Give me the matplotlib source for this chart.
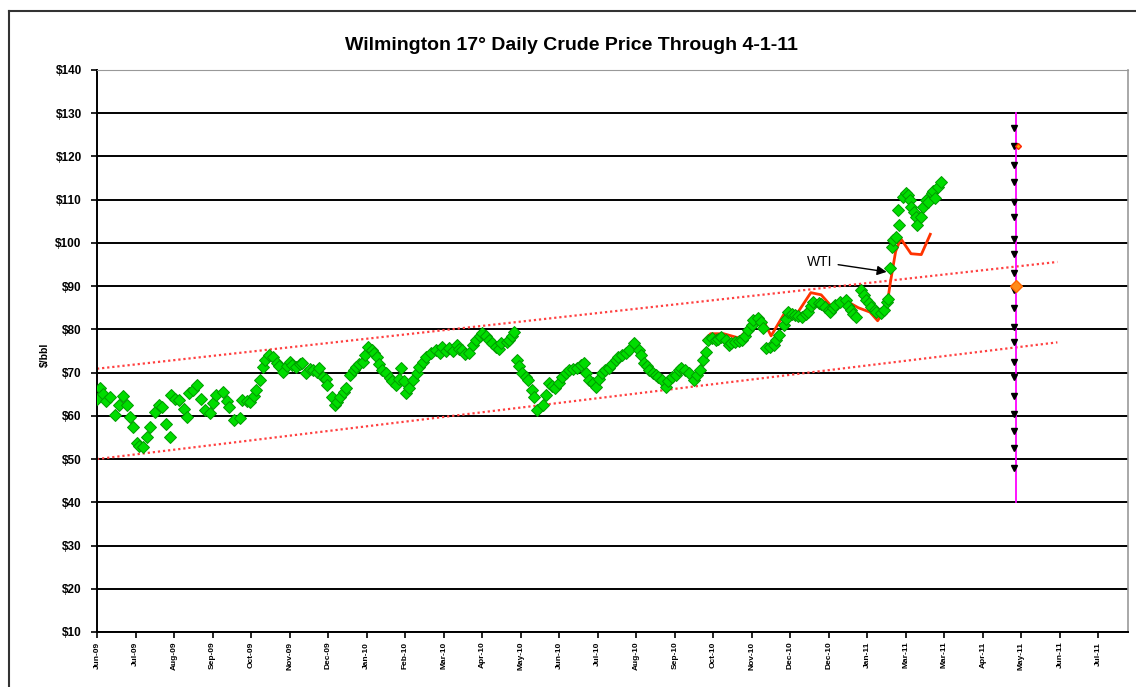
import matplotlib
matplotlib.use('Agg')
import matplotlib.pyplot as plt
from matplotlib.lines import Line2D

plt.rcParams['font.family'] = ['Liberation Sans', 'DejaVu Sans']

# x values are days after 9 Jun 2009, axis ticks every 30 days
tick_days = list(range(0, 781, 30))
tick_labels = ['Jun-09', 'Jul-09', 'Aug-09', 'Sep-09', 'Oct-09', 'Nov-09', 'Dec-09',
               'Jan-10', 'Feb-10', 'Mar-10', 'Apr-10', 'May-10', 'Jun-10', 'Jul-10',
               'Aug-10', 'Sep-10', 'Oct-10', 'Nov-10', 'Dec-10', 'Dec-10', 'Jan-11',
               'Mar-11', 'Mar-11', 'Apr-11', 'May-11', 'Jun-11', 'Jul-11']
price_ticks = list(range(10, 141, 10))

# Wilmington 17 deg daily price ($/bbl)
wil_day = [0, 2, 5, 7, 10, 14, 17, 20, 23, 26, 28, 31, 33, 36, 39, 41, 45, 48, 51, 54,
           57, 58, 61, 64, 68, 70, 72, 75, 78, 81, 84, 88, 90, 93, 98, 101, 103, 107, 111, 113,
           117, 119, 122, 124, 127, 129, 131, 134, 137, 140, 142, 145, 148, 150, 152, 155, 158, 160, 163, 166,
           168, 171, 173, 176, 178, 179, 183, 185, 187, 189, 192, 194, 197, 200, 202, 204, 207, 209, 211, 214,
           216, 218, 220, 222, 225, 228, 230, 233, 235, 237, 239, 241, 243, 246, 249, 251, 254, 256, 260, 264,
           267, 269, 272, 274, 277, 280, 282, 284, 287, 290, 293, 295, 298, 300, 303, 305, 308, 311, 313, 315,
           319, 321, 323, 325, 327, 329, 331, 334, 336, 339, 340, 343, 347, 350, 352, 354, 357, 360, 362, 365,
           368, 371, 374, 377, 379, 381, 383, 386, 389, 391, 393, 396, 399, 401, 404, 406, 409, 412, 414, 418,
           422, 424, 426, 428, 430, 433, 435, 437, 440, 443, 445, 448, 451, 453, 455, 458, 461, 465, 467, 470,
           472, 474, 476, 479, 482, 484, 486, 490, 492, 494, 497, 500, 502, 505, 507, 510, 511, 515, 517, 519,
           521, 524, 527, 529, 531, 535, 537, 538, 541, 544, 546, 549, 552, 554, 556, 558, 562, 564, 567, 570,
           571, 573, 575, 579, 583, 585, 587, 589, 591, 595, 597, 599, 601, 603, 606, 607, 611, 613, 615, 616,
           618, 619, 620, 622, 624, 625, 628, 630, 632, 633, 634, 636, 638, 639, 642, 643, 646, 647, 650, 651,
           653, 655, 657]
wil_price = [64.0, 66.5, 65.0, 63.5, 64.4, 60.2, 62.5, 64.5, 62.5, 59.8, 57.5, 53.8, 53.0, 52.8, 55.0, 57.5, 61.0, 62.5, 62.0, 58.0,
             55.0, 64.9, 64.0, 63.7, 61.5, 59.8, 65.3, 66.0, 67.2, 64.0, 61.4, 60.7, 63.0, 64.9, 65.6, 63.5, 62.1, 59.0, 59.5, 63.7,
             63.5, 63.2, 64.5, 66.0, 68.3, 71.3, 73.0, 74.1, 73.5, 72.3, 71.5, 70.2, 71.5, 72.5, 71.8, 71.3, 72.0, 72.3, 70.0, 70.8,
             70.6, 70.2, 71.1, 69.0, 68.5, 67.2, 64.4, 62.5, 63.2, 64.4, 65.5, 66.5, 69.5, 70.5, 71.3, 72.0, 72.5, 74.0, 76.0, 75.3,
             74.5, 73.7, 72.0, 70.6, 69.8, 68.8, 68.0, 67.2, 68.5, 71.1, 68.0, 65.3, 66.5, 68.3, 70.0, 71.3, 72.5, 73.7, 74.5, 75.3,
             74.5, 76.0, 75.0, 75.7, 75.0, 76.4, 75.5, 75.3, 74.2, 74.6, 76.5, 77.6, 78.5, 79.2, 78.5, 77.6, 76.8, 76.0, 75.5, 76.9,
             77.0, 77.6, 78.5, 79.4, 73.0, 71.5, 70.0, 69.0, 68.3, 66.0, 64.4, 61.4, 62.5, 64.9, 67.6, 66.8, 66.5, 67.5, 69.0, 70.0,
             70.6, 70.8, 71.1, 71.8, 72.3, 70.0, 68.3, 67.5, 66.7, 68.5, 70.0, 70.5, 71.1, 72.0, 73.0, 73.5, 74.1, 74.5, 75.3, 76.9,
             75.3, 74.0, 72.3, 71.5, 70.6, 70.0, 69.5, 69.0, 68.3, 66.7, 68.0, 69.0, 69.5, 70.5, 71.1, 70.5, 70.0, 68.3, 69.5, 70.6,
             73.0, 74.8, 77.6, 78.0, 77.6, 77.8, 78.3, 77.5, 76.4, 76.8, 77.1, 77.3, 77.6, 78.5, 79.9, 81.0, 82.2, 82.7, 81.8, 80.4,
             75.7, 76.0, 76.4, 77.5, 78.7, 81.1, 82.5, 84.1, 83.5, 83.4, 83.0, 82.9, 83.5, 84.1, 85.5, 86.4, 86.2, 85.8, 85.2, 84.5,
             84.1, 85.0, 85.7, 86.4, 86.9, 85.5, 84.5, 83.5, 82.9, 89.2, 88.0, 86.9, 86.0, 85.2, 84.5, 84.1, 83.8, 84.5, 86.4, 87.0,
             94.3, 99.1, 100.7, 101.4, 107.7, 104.2, 110.7, 111.6, 111.0, 110.0, 108.4, 107.2, 106.0, 104.2, 106.0, 108.4, 110.0, 109.5, 111.6, 112.0,
             110.5, 113.0, 114.2]

# WTI ($/bbl)
wti_day = [473, 478, 488, 500, 511, 519, 525, 536, 546, 556, 564, 573, 584, 593, 602, 608, 615, 618, 622, 626, 634, 642, 649]
wti_price = [77.5, 79.0, 79.0, 78.0, 81.0, 82.0, 78.5, 84.0, 84.0, 88.5, 88.0, 85.0, 86.5, 85.0, 84.0, 82.0, 85.0, 91.0, 98.0, 101.0, 97.5, 97.3, 102.0]

# price channel
chan_day = [0, 748]
chan_upper = [70.9, 95.6]
chan_lower = [50.0, 77.0]

# forward strip
strip_day = 716
strip_price = [126.5, 122.5, 118.0, 114.0, 109.5, 106.0, 101.0, 97.5, 93.0, 89.0,
               85.0, 80.5, 77.0, 72.5, 69.0, 64.5, 60.5, 56.5, 52.5, 48.0]
strip_range = [40, 130]
wti_point = 90.0
wil_point = 122.5

fig = plt.figure(figsize=(11.36, 6.87), dpi=100)
ax = fig.add_axes([97 / 1136, 55 / 687, 1031 / 1136, 562 / 687])

ax.plot(chan_day, chan_upper, color='#ff4040', lw=1.6, ls=(0, (1, 1.3)), zorder=2)
ax.plot(chan_day, chan_lower, color='#ff4040', lw=1.6, ls=(0, (1, 1.3)), zorder=2)

ax.plot(wti_day, wti_price, color='#ff3300', lw=2, zorder=3)
ax.plot(wil_day, wil_price, ls='none', marker='D', ms=6.5,
        mfc='#00dd00', mec='#009a00', mew=0.7, zorder=4)

ax.plot([strip_day, strip_day], strip_range, color='#ff00ff', lw=1.3, zorder=3)
ax.plot([strip_day - 1.5] * len(strip_price), strip_price, ls='none', marker='v',
        ms=4, color='black', zorder=5)
ax.plot(strip_day, wti_point, ls='none', marker='D', ms=6.5, mfc='#ff8c1a', mec='#ff6600', zorder=6)
ax.plot(strip_day + 1, wil_point, ls='none', marker='D', ms=3, mfc='#ffb000', mec='#ff2200', zorder=6)

ax.annotate('WTI', xy=(615, 93.3), xytext=(563, 95.6), fontsize=10,
            ha='center', va='center',
            arrowprops=dict(arrowstyle='-|>', color='black', lw=1, mutation_scale=14,
                            shrinkA=2, shrinkB=0))

ax.set_xlim(0, 803)
ax.set_ylim(10, 140)
ax.set_xticks(tick_days)
ax.set_xticklabels(tick_labels, rotation=90, fontsize=6, fontweight='bold')
ax.set_yticks(price_ticks)
ax.set_yticklabels(['$%d' % p for p in price_ticks], fontsize=8.5, fontweight='bold')
ax.tick_params(axis='both', direction='out', length=4, width=1.2, color='black', pad=3)
ax.tick_params(axis='y', pad=7)

ax.yaxis.grid(True, color='black', lw=1.4)
ax.get_ygridlines()[-1].set_color('#999999')
ax.set_axisbelow(True)

ax.spines['left'].set_linewidth(1.4)
ax.spines['bottom'].set_linewidth(1.4)
ax.spines['top'].set_color('#999999')
ax.spines['right'].set_color('#999999')
ax.spines['right'].set_linewidth(1.2)

fig.text(571 / 1136, 1 - 45 / 687, 'Wilmington 17° Daily Crude Price Through 4-1-11',
         ha='center', va='center', fontsize=14, fontweight='bold')
fig.text(45 / 1136, 1 - 355 / 687, '$/bbl', rotation=90, ha='center', va='center',
         fontsize=7.5, fontweight='bold')

# chart frame
fig.add_artist(Line2D([9 / 1136, 1], [1 - 11 / 687, 1 - 11 / 687], color='#333333', lw=1.5))
fig.add_artist(Line2D([9 / 1136, 9 / 1136], [0, 1 - 11 / 687], color='#333333', lw=1.5))

fig.savefig('out.png', dpi=100)
